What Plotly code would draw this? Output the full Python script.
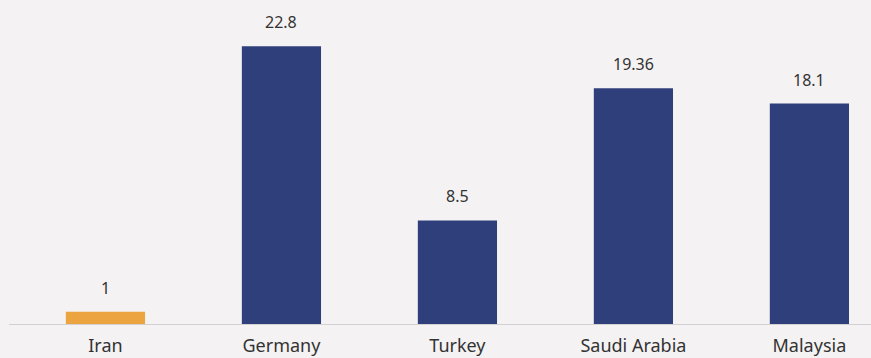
import plotly.graph_objects as go

countries = ["Iran", "Germany", "Turkey", "Saudi Arabia", "Malaysia"]
values = [1, 22.8, 8.5, 19.36, 18.1]
labels = ["1", "22.8", "8.5", "19.36", "18.1"]
colors = ["#eba43f", "#2f3f7c", "#2f3f7c", "#2f3f7c", "#2f3f7c"]

fig = go.Figure()
fig.add_trace(go.Bar(x=countries, y=values, marker_color=colors,
                     marker_line_width=0, hoverinfo="x+y"))

# value labels above the bars
for c, v, t in zip(countries, values, labels):
    fig.add_annotation(x=c, y=v, text=t, showarrow=False, yanchor="bottom",
                       yshift=11, font=dict(size=16, color="#333333"))

fig.update_layout(
    width=871, height=358,
    margin=dict(l=9, r=0, t=0, b=34),
    paper_bgcolor="#f5f2f3", plot_bgcolor="#f5f2f3",
    bargap=0.55,
    showlegend=False,
    font=dict(family="Noto Sans, sans-serif", color="#333333"),
)
fig.update_xaxes(range=[-0.548, 4.35], showline=True, linecolor="#d3d0d1",
                 linewidth=1, tickfont=dict(size=18, color="#333333"),
                 ticks="", showgrid=False, ticklabelstandoff=5)
fig.update_yaxes(range=[0, 26.6], visible=False, showgrid=False, zeroline=False)

fig.write_html("out.html", config={"displayModeBar": False},
               post_script="document.body.style.margin='0';")
